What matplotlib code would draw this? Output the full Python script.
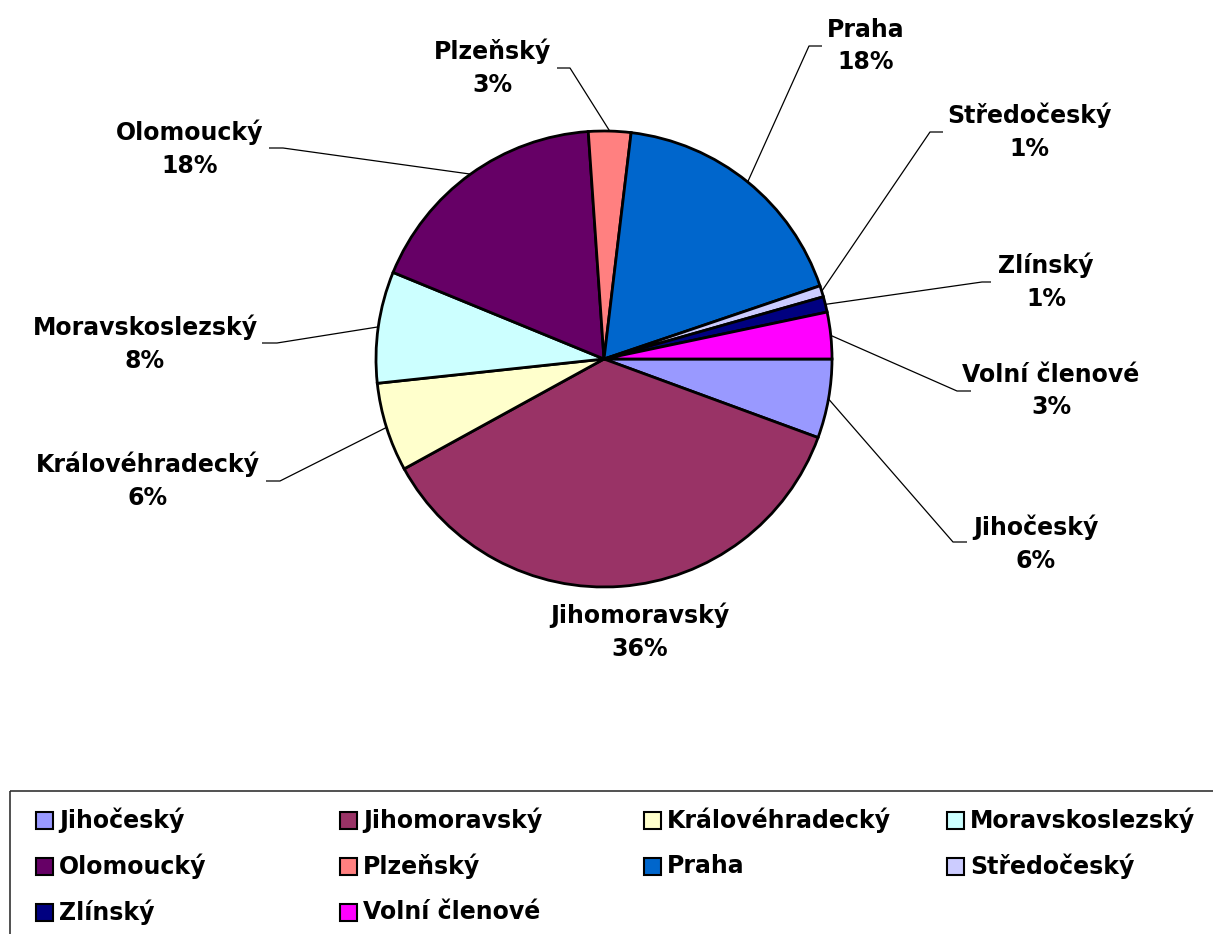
import matplotlib
matplotlib.use("Agg")
import matplotlib.pyplot as plt
import matplotlib.transforms as mtransforms
from matplotlib.patches import Rectangle
import numpy as np

# ---- data ----
regions = ["Jihočeský", "Jihomoravský", "Královéhradecký", "Moravskoslezský",
           "Olomoucký", "Plzeňský", "Praha", "Středočeský", "Zlínský", "Volní členové"]
shares = [5.6, 36.4, 6.3, 7.9, 17.7, 3.0, 17.9, 0.8, 1.1, 3.3]
colors = ["#9999FF", "#993366", "#FFFFCC", "#CCFFFF", "#660066",
          "#FF8080", "#0066CC", "#CCCCFF", "#000080", "#FF00FF"]

# ---- layout (pixels, top-left origin) ----
W, H = 1213, 934
CX, CY, R = 604, 359, 228
label_pos = [(1036, 544), (640, 632), (148, 481), (145, 344), (190, 149),
             (492, 68), (866, 46), (1029, 132), (1046, 282), (1051, 391)]
# knee and end point of each leader line (None = no leader)
leaders = [((953, 542), (967, 542)), None, ((280, 481), (266, 481)),
           ((277, 343), (262, 343)), ((283, 148), (269, 148)),
           ((570, 68), (557, 68)), ((809, 46), (822, 46)),
           ((930, 132), (943, 132)), ((982, 282), (991, 282)),
           ((957, 391), (971, 391))]

FONT = "DejaVu Sans"
FS = 17

def px(x, y):
    return (x - CX) / R, (CY - y) / R

fig = plt.figure(figsize=(W / 100, H / 100), dpi=100)
ax = fig.add_axes([0, 0, 1, 1])
wedges, _ = ax.pie(shares, colors=colors, startangle=0, counterclock=False,
                   radius=1, center=(0, 0),
                   wedgeprops=dict(edgecolor="black", linewidth=2.0))
ax.set_xlim((0 - CX) / R, (W - CX) / R)
ax.set_ylim((CY - H) / R, CY / R)
ax.set_aspect("auto")
ax.axis("off")

total = sum(shares)
for i, (w, name, v) in enumerate(zip(wedges, regions, shares)):
    lx, ly = px(*label_pos[i])
    ax.text(lx, ly, f"{name}\n{round(v / total * 100):.0f}%", ha="center", va="center",
            fontsize=FS, fontweight="bold", family=FONT, linespacing=1.45)
    if leaders[i] is not None:
        mid = np.deg2rad((w.theta1 + w.theta2) / 2)
        ax0, ay0 = np.cos(mid), np.sin(mid)
        kx, ky = px(*leaders[i][0])
        ex, ey = px(*leaders[i][1])
        ax.plot([ax0, kx, ex], [ay0, ky, ey], color="black", lw=0.9,
                solid_capstyle="butt")

# ---- legend (manual, equal column widths like the original) ----
ptrans = mtransforms.Affine2D().scale(1 / W, -1 / H).translate(0, 1) + fig.transFigure
fig.patches.append(Rectangle((10, 791), 1230, 160, transform=ptrans, fill=False,
                             edgecolor="#333333", linewidth=1.2))
col_x = [36, 340, 644, 947]
row_y = [820, 866, 912]
SQ = 17
for i, (name, c) in enumerate(zip(regions, colors)):
    r, cidx = divmod(i, 4)
    x0, yc = col_x[cidx], row_y[r]
    fig.patches.append(Rectangle((x0, yc - SQ / 2), SQ, SQ, transform=ptrans,
                                 facecolor=c, edgecolor="black", linewidth=1.5))
    fig.text(x0 + SQ + 6, yc, name, transform=ptrans, ha="left", va="center",
             fontsize=FS, fontweight="bold", family=FONT)

fig.savefig("out.png", dpi=100)
